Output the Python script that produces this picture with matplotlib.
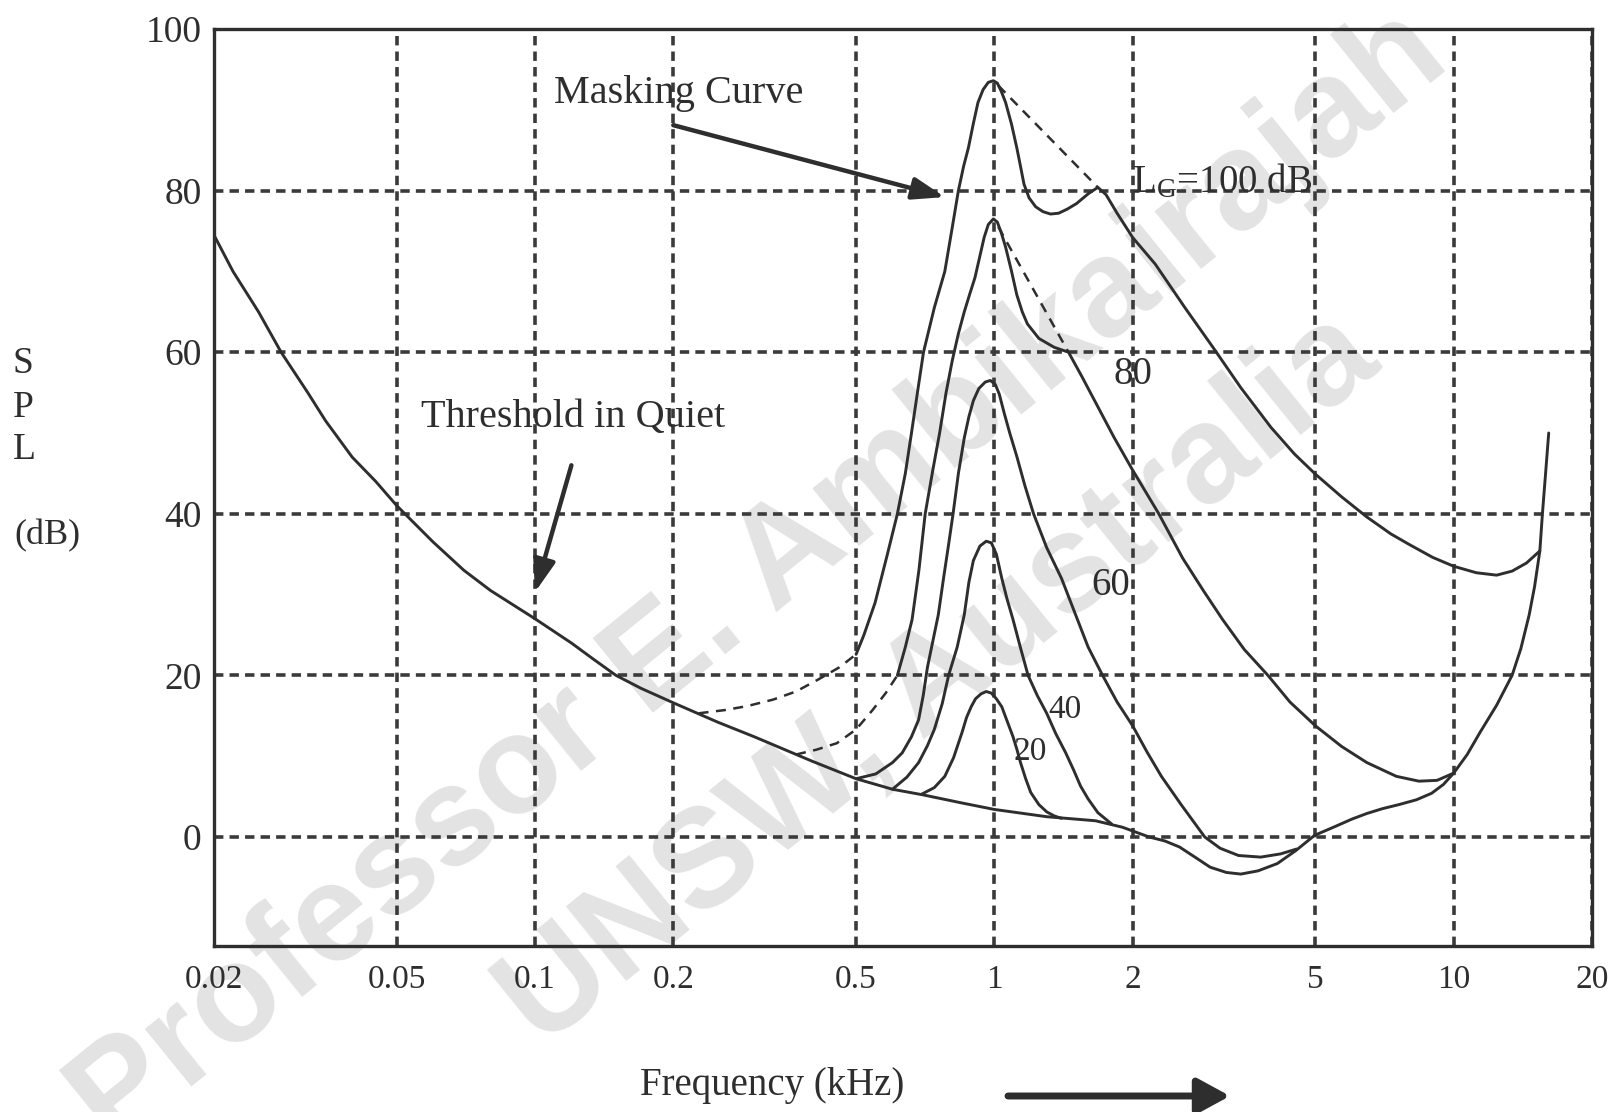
import numpy as np
import matplotlib
matplotlib.use('Agg')
import matplotlib.pyplot as plt
from matplotlib.ticker import NullLocator

plt.rcParams['font.family'] = ['Liberation Serif', 'DejaVu Serif']
plt.rcParams['mathtext.fontset'] = 'custom'
plt.rcParams['mathtext.rm'] = 'Liberation Serif'
plt.rcParams['mathtext.it'] = 'Liberation Serif:italic'

INK = '#2e2e2e'
GRID = '#3a3a3a'

# axis ticks
x_ticks = [0.02, 0.05, 0.1, 0.2, 0.5, 1, 2, 5, 10, 20]
x_labels = ['0.02', '0.05', '0.1', '0.2', '0.5', '1', '2', '5', '10', '20']
y_ticks = [0, 20, 40, 60, 80, 100]

# threshold in quiet (kHz, dB)
thr_f = [0.02, 0.022, 0.025, 0.028, 0.032, 0.035, 0.04, 0.045, 0.05, 0.06,
         0.07, 0.08, 0.1, 0.12, 0.134, 0.15, 0.17, 0.2, 0.25, 0.3, 0.4, 0.5,
         0.6, 0.7, 0.85, 1.0, 1.3, 1.66, 1.9, 2.17, 2.35, 2.53, 2.75, 2.95,
         3.2, 3.44, 3.75, 4.13, 4.53, 4.98, 5.5, 6.0, 6.47, 7.0, 7.6, 8.3,
         8.95, 9.5, 10.0, 10.7, 11.4, 12.4, 13.4, 14.0, 14.6, 15.0, 15.4,
         15.6, 15.85, 16.1]
thr_db = [74.5, 70, 65, 60, 55, 51.5, 47, 44, 41, 36.5,
          33, 30.5, 27, 24, 22, 20, 18.4, 16.6, 14.2, 12.4, 9.4, 7.2,
          5.9, 5.2, 4.2, 3.4, 2.5, 2.0, 1.2, 0.0, -0.5, -1.25, -2.6, -3.75,
          -4.4, -4.6, -4.2, -3.3, -1.7, 0.2, 1.25, 2.2, 2.9, 3.5, 4.0, 4.6,
          5.4, 6.5, 7.9, 10.2, 12.9, 16.3, 20, 23.3, 27.5, 31, 35.4,
          40, 45, 50]

# masking curves, 1 kHz masker at 100 / 80 / 60 / 40 / 20 dB
m100_f = [0.5, 0.52, 0.55, 0.585, 0.615, 0.64, 0.66, 0.68, 0.701, 0.74, 0.78,
          0.81, 0.835, 0.857, 0.878, 0.9, 0.921, 0.945, 0.97, 0.995, 1.015,
          1.035, 1.058, 1.09, 1.119, 1.14, 1.16, 1.19, 1.23, 1.275, 1.325,
          1.38, 1.44, 1.51, 1.6, 1.68, 1.75, 1.85, 2.0, 2.24, 2.6, 3.0, 3.44,
          4.0, 4.5, 5.0, 5.7, 6.47, 7.3, 8.0, 9.0, 10.0, 11.2, 12.4, 13.4,
          14.4, 15.4]
m100_db = [22.6, 25, 29, 35, 40, 45, 50, 55, 60, 65.5, 70,
           75.5, 80, 83, 85.3, 88.3, 90.9, 92.5, 93.4, 93.6, 93.3,
           92.3, 90.9, 88.2, 85.3, 83, 80.8, 79.1, 78, 77.4, 77.1,
           77.2, 77.7, 78.4, 79.6, 80.4, 79.5, 77.2, 74.2, 70.9, 65.5, 60.5, 55.6,
           50.7, 47.4, 44.9, 42.1, 39.6, 37.5, 36.2, 34.6, 33.5, 32.7, 32.4, 32.9,
           33.9, 35.4]
m100_lo_f = [0.227, 0.259, 0.29, 0.33, 0.37, 0.414, 0.46, 0.5]
m100_lo_db = [15.3, 15.7, 16.2, 17.0, 18.0, 19.5, 21, 22.6]
m100_hi_f = [1.02, 1.68]
m100_hi_db = [93, 80.4]

m80_f = [0.615, 0.64, 0.662, 0.685, 0.707, 0.735, 0.76, 0.785, 0.81, 0.835,
         0.86, 0.885, 0.907, 0.93, 0.95, 0.97, 0.995, 1.015, 1.035, 1.058,
         1.09, 1.119, 1.15, 1.18, 1.25, 1.35, 1.45, 1.55, 1.66, 1.82, 2.0,
         2.28, 2.57, 2.85, 3.14, 3.5, 3.94, 4.4, 5.0, 5.7, 6.47, 7.5, 8.4,
         9.2, 10.0]
m80_db = [20, 23.5, 26.9, 33, 40, 45.5, 50, 55, 59, 62.3,
          65, 67.3, 69.2, 71.9, 74.2, 75.8, 76.5, 76.1, 74.8, 73,
          70, 67.1, 65, 63.5, 61.7, 60.6, 60, 57, 53.8, 49.5, 45.4,
          40, 34.5, 30.5, 26.9, 23.2, 20, 16.7, 13.75, 11.2, 9.2, 7.5, 6.9,
          7.0, 7.9]
m80_lo_f = [0.37, 0.41, 0.454, 0.5, 0.543, 0.58, 0.615]
m80_lo_db = [10.2, 10.8, 11.6, 13.3, 15.7, 17.8, 20]
m80_hi_f = [1.02, 1.45]
m80_hi_db = [75.5, 60]

m60_f = [0.5, 0.552, 0.6, 0.63, 0.66, 0.684, 0.7, 0.715, 0.735, 0.755, 0.775,
         0.795, 0.813, 0.835, 0.86, 0.88, 0.9, 0.925, 0.955, 0.98, 1.005,
         1.025, 1.05, 1.08, 1.119, 1.165, 1.217, 1.3, 1.4, 1.6, 1.72, 1.85,
         2.0, 2.15, 2.31, 2.55, 2.87, 3.1, 3.4, 3.8, 4.2, 4.55]
m60_db = [7.2, 7.8, 9.2, 10.4, 12.4, 14.5, 17.5, 21, 24.3, 27.5, 32,
          36.2, 40, 45, 49.4, 52, 54, 55.5, 56.3, 56.5, 56,
          54.8, 52.5, 50, 47.1, 43.5, 40, 35.8, 32, 23.5, 20, 16.7,
          13.75, 10.5, 7.5, 4.0, 0, -1.4, -2.3, -2.5, -2.1, -1.5]

m40_f = [0.6, 0.645, 0.684, 0.715, 0.74, 0.77, 0.795, 0.83, 0.86, 0.88, 0.9,
         0.93, 0.96, 0.985, 1.01, 1.038, 1.065, 1.098, 1.14, 1.184, 1.24, 1.3,
         1.36, 1.43, 1.49, 1.54, 1.6, 1.68, 1.8]
m40_db = [5.9, 7.4, 9.2, 11.3, 13.3, 16.5, 20, 23.5, 27.5, 31.5, 34.2,
          36, 36.6, 36.4, 35, 32, 29.5, 26.9, 23.4, 20, 17.5, 15.3,
          12.8, 10.4, 8.2, 6.3, 4.7, 3.0, 1.6]

m20_f = [0.695, 0.74, 0.78, 0.815, 0.85, 0.87, 0.89, 0.91, 0.935, 0.96, 0.985,
         1.01, 1.038, 1.065, 1.098, 1.12, 1.14, 1.17, 1.2, 1.25, 1.3, 1.35, 1.40]
m20_db = [5.3, 6.1, 7.5, 9.8, 12.9, 14.8, 16.1, 17.1, 17.7, 18, 17.8,
          17.1, 16.1, 14.4, 12.4, 10.8, 9.2, 7.2, 5.5, 4.0, 3.1, 2.6, 2.3]

fig = plt.figure(figsize=(16.21, 11.12), dpi=100)

# faint diagonal watermark behind the axes
wm = dict(rotation=39, color='#e3e3e3', fontsize=100, fontweight='bold',
          family='Liberation Sans', ha='center', va='center', zorder=-1)
fig.text(760 / 1621, 1 - 580 / 1112, 'Professor E. Ambikairajah', **wm)
fig.text(940 / 1621, 1 - 680 / 1112, 'UNSW, Australia', **wm)

ax = fig.add_axes([0.1320, 0.1493, 0.8501, 0.8246])
ax.set_facecolor('none')
ax.set_xscale('log')
ax.set_xlim(0.02, 20)
ax.set_ylim(-13.5, 100)
ax.set_xticks(x_ticks)
ax.set_xticklabels(x_labels)
ax.xaxis.set_minor_locator(NullLocator())
ax.set_yticks(y_ticks)
ax.tick_params(axis='x', length=0, pad=13, labelsize=24, colors=INK)
ax.tick_params(axis='y', length=0, pad=9, labelsize=27, colors=INK)
ax.grid(True, color=GRID, lw=2.6, linestyle=(0, (2.6, 1.7)))
for s in ax.spines.values():
    s.set_color(INK)
    s.set_linewidth(2.4)

solid = dict(color=INK, lw=2.1, solid_joinstyle='round', solid_capstyle='round')
dashed = dict(color=INK, lw=1.8, linestyle=(0, (4, 3)))

ax.plot(thr_f, thr_db, **solid)
for f, db in [(m100_f, m100_db), (m80_f, m80_db), (m60_f, m60_db),
              (m40_f, m40_db), (m20_f, m20_db)]:
    ax.plot(f, db, **solid)
for f, db in [(m100_lo_f, m100_lo_db), (m100_hi_f, m100_hi_db),
              (m80_lo_f, m80_lo_db), (m80_hi_f, m80_hi_db)]:
    ax.plot(f, db, **dashed)

# level labels on the curves
ax.text(1.99, 79.8, r'$\mathregular{L_G}$=100 dB', fontsize=28, color=INK,
        ha='left', va='baseline')
ax.text(2.0, 57.2, '80', fontsize=28, color=INK, ha='center', va='center')
ax.text(1.79, 31.1, '60', fontsize=28, color=INK, ha='center', va='center')
ax.text(1.425, 15.7, '40', fontsize=24, color=INK, ha='center', va='center')
ax.text(1.197, 10.6, '20', fontsize=24, color=INK, ha='center', va='center')

arrow = dict(arrowstyle='-|>,head_length=1.3,head_width=0.45', lw=3.2,
             color=INK, shrinkA=0, shrinkB=0, mutation_scale=15)
ax.text(0.205, 90.8, 'Masking Curve', fontsize=29, color=INK,
        ha='center', va='baseline')
ax.annotate('', xy=(0.78, 79.2), xytext=(0.2, 88.1), arrowprops=arrow)
ax.text(0.121, 50.8, 'Threshold in Quiet', fontsize=29, color=INK,
        ha='center', va='baseline')
ax.annotate('', xy=(0.1, 30.3), xytext=(0.12, 46), arrowprops=arrow)

# axis titles
for ch, y in [('S', 364), ('P', 408), ('L', 450)]:
    fig.text(12.5 / 1621, 1 - y / 1112, ch, fontsize=27, color=INK,
             ha='left', va='center')
fig.text(14 / 1621, 1 - 536 / 1112, '(dB)', fontsize=26, color=INK,
         ha='left', va='center')
fig.text(772 / 1621, 1 - 1085 / 1112, 'Frequency (kHz)', fontsize=28,
         color=INK, ha='center', va='center')
fig.patches.append(matplotlib.patches.FancyArrowPatch(
    (1008 / 1621, 1 - 1096 / 1112), (1230 / 1621, 1 - 1096 / 1112),
    transform=fig.transFigure, arrowstyle='-|>,head_length=1.1,head_width=0.6',
    mutation_scale=18, lw=5, color=INK, shrinkA=0, shrinkB=0))

fig.savefig('out.png', dpi=100, facecolor='white')
